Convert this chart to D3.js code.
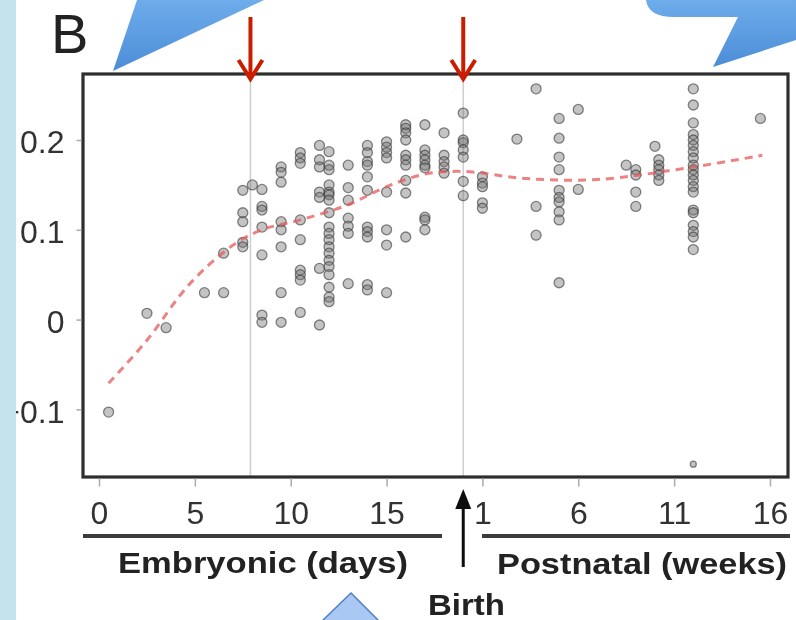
<!DOCTYPE html>
<html>
<head>
<meta charset="utf-8">
<script src="https://cdn.jsdelivr.net/npm/d3@7"></script>
<style>
  html, body { margin: 0; padding: 0; background: #fff; }
  svg { display: block; }
  text { font-family: "Liberation Sans", Arial, Helvetica, sans-serif; }
</style>
</head>
<body>
<svg id="chart" width="796" height="620"></svg>
<script>
// age on a single axis: embryonic day d -> d, postnatal week w -> BIRTH_DAY + w
const BIRTH_DAY = 19;
const MARKED_DAY = 7.9;

// embryonic columns (days) and the values sampled at each
const embryonicDays = [0.5, 2.5, 3.5, 5.5, 6.5, 7.5, 8, 8.5, 9.5, 10.5, 11.5, 12, 13, 14, 15, 16, 17, 18, 19];
const embryonicValues = [
  [-0.103],
  [0.007],
  [-0.009],
  [0.030],
  [0.030, 0.074],
  [0.144, 0.119, 0.109, 0.086, 0.081],
  [0.150],
  [0.145, 0.126, 0.122, 0.103, 0.072, 0.005, -0.003],
  [0.170, 0.164, 0.153, 0.109, 0.100, 0.081, 0.030, -0.003],
  [0.186, 0.180, 0.174, 0.111, 0.089, 0.055, 0.050, 0.044, 0.008],
  [0.194, 0.178, 0.170, 0.142, 0.136, 0.057, -0.006],
  [0.187, 0.172, 0.167, 0.150, 0.142, 0.139, 0.133, 0.119, 0.103, 0.096, 0.089, 0.081, 0.074, 0.066, 0.059, 0.050, 0.036, 0.025, 0.020],
  [0.172, 0.147, 0.133, 0.113, 0.104, 0.096, 0.040],
  [0.194, 0.186, 0.176, 0.172, 0.159, 0.144, 0.103, 0.098, 0.092, 0.039, 0.033],
  [0.198, 0.192, 0.186, 0.180, 0.142, 0.100, 0.083, 0.030],
  [0.217, 0.213, 0.208, 0.200, 0.183, 0.178, 0.172, 0.155, 0.141, 0.092],
  [0.217, 0.189, 0.183, 0.178, 0.172, 0.169, 0.114, 0.111, 0.100],
  [0.208, 0.183, 0.176, 0.170, 0.163],
  [0.230, 0.200, 0.197, 0.189, 0.181, 0.154, 0.138]
];

// postnatal columns (weeks) and values
const postnatalWeeks = [1, 2.8, 3.8, 5, 6, 8.5, 9, 10, 10.2, 12, 15.5];
const postnatalValues = [
  [0.159, 0.152, 0.148, 0.130, 0.124],
  [0.201],
  [0.257, 0.126, 0.094],
  [0.224, 0.202, 0.181, 0.167, 0.144, 0.136, 0.131, 0.120, 0.111, 0.041],
  [0.234, 0.145],
  [0.172],
  [0.167, 0.161, 0.142, 0.126],
  [0.193],
  [0.178, 0.172, 0.167, 0.161, 0.155],
  [0.257, 0.239, 0.219, 0.206, 0.200, 0.194, 0.187, 0.180, 0.172, 0.167, 0.161, 0.155, 0.148, 0.142, 0.122, 0.119, 0.105, 0.098, 0.092, 0.078, -0.161],
  [0.224]
];

// smoothed trend (dashed red)
const trendAge = [0.5, 2.5, 4.7, 7, 8.5, 10.5, 13, 15, 17, 19, 22.3, 26, 31, 34.6];
const trendValue = [-0.071, -0.023, 0.039, 0.083, 0.100, 0.111, 0.128, 0.148, 0.162, 0.165, 0.157, 0.156, 0.170, 0.183];

// axis ticks
const xTickAges = [0, 5, 10, 15, 20, 25, 30, 35];
const yTicks = [-0.1, 0, 0.1, 0.2];

const svg = d3.select("#chart");

// plot frame
const plotLeft = 83, plotRight = 788, plotTop = 74, plotBottom = 477;

const x = d3.scaleLinear().domain([-0.835, 35.94]).range([plotLeft, plotRight]);
const y = d3.scaleLinear().domain([-0.1753, 0.2735]).range([plotBottom, plotTop]);

const defs = svg.append("defs");
// gradient for the blue callouts
const grad = defs.append("linearGradient")
  .attr("id", "callout").attr("x1", 0).attr("y1", 0).attr("x2", 0).attr("y2", 1);
grad.append("stop").attr("offset", "0%").attr("stop-color", "#6eaceb");
grad.append("stop").attr("offset", "100%").attr("stop-color", "#4b8dd6");
// the source figure is a soft, upscaled image
defs.append("filter").attr("id", "soft")
  .attr("x", "-5%").attr("y", "-5%").attr("width", "110%").attr("height", "110%")
  .append("feGaussianBlur").attr("stdDeviation", 0.7);

const g = svg.append("g").attr("filter", "url(#soft)");

// flatten points
const points = [];
embryonicDays.forEach((d, i) => embryonicValues[i].forEach(v => points.push({ age: d, value: v })));
postnatalWeeks.forEach((w, i) => postnatalValues[i].forEach(v => points.push({ age: BIRTH_DAY + w, value: v })));

// vertical reference lines
g.selectAll("line.ref")
  .data([MARKED_DAY, BIRTH_DAY])
  .enter().append("line")
  .attr("class", "ref")
  .attr("x1", d => x(d)).attr("x2", d => x(d))
  .attr("y1", plotTop).attr("y2", plotBottom)
  .attr("stroke", "#cfcfcf").attr("stroke-width", 1.6);

// points
g.append("g").selectAll("circle")
  .data(points)
  .enter().append("circle")
  .attr("cx", d => x(d.age))
  .attr("cy", d => y(d.value))
  .attr("r", d => d.value < -0.15 ? 3 : 5)
  .attr("fill", "rgba(115,115,115,0.42)")
  .attr("stroke", "rgba(55,55,55,0.6)")
  .attr("stroke-width", 1.3);

// trend line
const trend = trendAge.map((a, i) => [a, trendValue[i]]);
g.append("path")
  .datum(trend)
  .attr("fill", "none")
  .attr("stroke", "rgba(230,90,90,0.75)")
  .attr("stroke-width", 3)
  .attr("stroke-dasharray", "8,6")
  .attr("d", d3.line().x(d => x(d[0])).y(d => y(d[1])).curve(d3.curveCatmullRom.alpha(0.5)));

// frame
g.append("rect")
  .attr("x", plotLeft).attr("y", plotTop)
  .attr("width", plotRight - plotLeft).attr("height", plotBottom - plotTop)
  .attr("fill", "none").attr("stroke", "#2e2e2e").attr("stroke-width", 3.2);

// y axis
const yAxis = g.append("g")
  .attr("transform", `translate(${plotLeft - 1.5},0)`)
  .call(d3.axisLeft(y).tickValues(yTicks).tickSize(5).tickPadding(12)
    .tickFormat(d => d === 0 ? "0" : d3.format(".1f")(d)));
yAxis.select(".domain").remove();
yAxis.selectAll("line").attr("stroke", "#aaa").attr("stroke-width", 1.5);
yAxis.selectAll("text").attr("font-size", 32).attr("fill", "#333").attr("dy", "0.4em");

// x axis
const xAxis = g.append("g")
  .attr("transform", `translate(0,${plotBottom + 1.5})`)
  .call(d3.axisBottom(x).tickValues(xTickAges).tickSize(8).tickPadding(15)
    .tickFormat(d => d < BIRTH_DAY ? d : d - BIRTH_DAY));
xAxis.select(".domain").remove();
xAxis.selectAll("line").attr("stroke", "#aaa").attr("stroke-width", 1.5);
xAxis.selectAll("text").attr("font-size", 32).attr("fill", "#333");

// period underlines and labels
g.append("line").attr("x1", 83).attr("x2", 442).attr("y1", 536).attr("y2", 536)
  .attr("stroke", "#3a3a3a").attr("stroke-width", 4);
g.append("line").attr("x1", 482).attr("x2", 790).attr("y1", 536).attr("y2", 536)
  .attr("stroke", "#3a3a3a").attr("stroke-width", 4);

g.append("text").attr("x", 118).attr("y", 573)
  .attr("font-size", 30).attr("font-weight", "bold").attr("fill", "#222")
  .attr("textLength", 290).attr("lengthAdjust", "spacingAndGlyphs")
  .text("Embryonic (days)");
g.append("text").attr("x", 497).attr("y", 574)
  .attr("font-size", 30).attr("font-weight", "bold").attr("fill", "#222")
  .attr("textLength", 290).attr("lengthAdjust", "spacingAndGlyphs")
  .text("Postnatal (weeks)");
g.append("text").attr("x", 428).attr("y", 615)
  .attr("font-size", 30).attr("font-weight", "bold").attr("fill", "#222")
  .attr("textLength", 77).attr("lengthAdjust", "spacingAndGlyphs")
  .text("Birth");

// birth arrow
const bx = x(BIRTH_DAY);
g.append("line").attr("x1", bx).attr("x2", bx).attr("y1", 567).attr("y2", 505)
  .attr("stroke", "#111").attr("stroke-width", 3);
g.append("path")
  .attr("d", `M${bx},489 L${bx - 8},509 L${bx + 8},509 Z`)
  .attr("fill", "#111");

// red arrows marking the two time points
[MARKED_DAY, BIRTH_DAY].forEach(d => {
  const ax = x(d);
  g.append("line").attr("x1", ax).attr("x2", ax).attr("y1", 17).attr("y2", 78)
    .attr("stroke", "#cc1f00").attr("stroke-width", 4);
  g.append("path")
    .attr("d", `M${ax - 12},60 L${ax},79 L${ax + 12},60`)
    .attr("fill", "none").attr("stroke", "#cc1f00").attr("stroke-width", 4)
    .attr("stroke-linejoin", "miter");
});

// panel letter
g.append("text").attr("x", 51).attr("y", 53)
  .attr("font-size", 56).attr("fill", "#222").text("B");

// blue callouts from the slide
svg.append("path")
  .attr("d", "M113,71 L137,0 L264,0 Z")
  .attr("fill", "url(#callout)");
svg.append("path")
  .attr("d", "M646,0 Q648,17 674,17 L738,17 L713,67 L796,40 L796,0 Z")
  .attr("fill", "url(#callout)");
svg.append("path")
  .attr("d", "M322,621 L351,593 L379,621")
  .attr("fill", "#a9c8f3").attr("stroke", "#4f7fc0").attr("stroke-width", 1.5);

// light blue slide strip on the left
svg.append("rect").attr("x", 0).attr("y", 0).attr("width", 16).attr("height", 620)
  .attr("fill", "#c4e3ec");
</script>
</body>
</html>
